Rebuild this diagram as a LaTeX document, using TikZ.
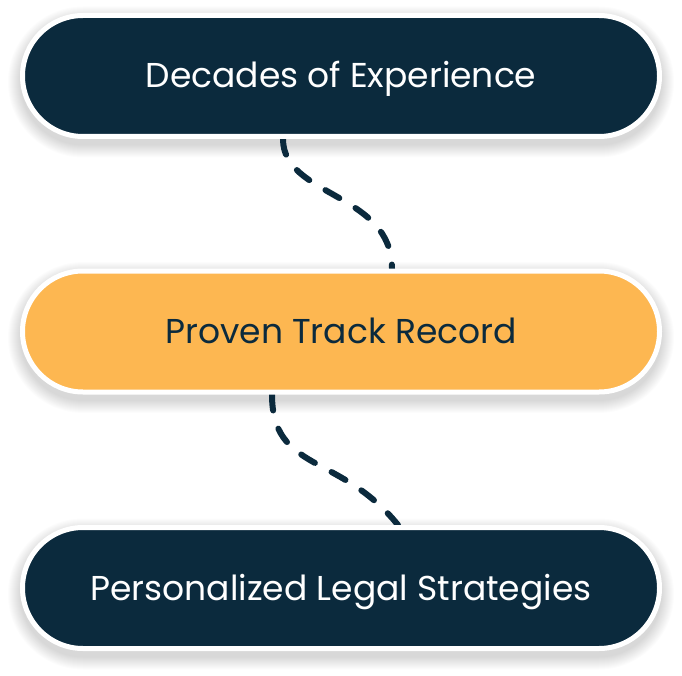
\documentclass[tikz,border=0pt]{standalone}
\usepackage{fontspec}
\setmainfont{Poppins}
\usetikzlibrary{calc}
\pgfdeclarelayer{background}
\pgfsetlayers{background,main}
\definecolor{navy}{HTML}{0B2A3D}
\definecolor{gold}{HTML}{FDB751}
\tikzset{
  pill/.style={draw=white, line width=5pt, rounded corners=60.5pt,
    minimum width=637pt, minimum height=121pt, inner sep=0pt,
    text height=24pt, text depth=0pt,
    font=\fontsize{34.5}{40}\selectfont},
  darkpill/.style={pill, fill=navy, text=white},
  goldpill/.style={pill, fill=gold, text=navy},
  link/.style={draw=navy, line width=6pt, line cap=round, dash pattern=on 16pt off 19pt},
}
\begin{document}
\begin{tikzpicture}[x=1pt,y=-1pt]
\useasboundingbox (0,0) rectangle (682,676);
\node[darkpill] (a) at (341,76) {Decades of Experience};
\node[goldpill] (b) at (341,331.5) {Proven Track Record};
\node[darkpill] (c) at (341,588) {Personalized Legal Strategies};
\begin{pgfonlayer}{background}
  \fill[white] (0,0) rectangle (682,676);
  \foreach \n in {a,b,c}{
    \foreach \r in {0,1,...,12}{
      \fill[black, opacity=0.011, rounded corners={63.5pt+\r pt}]
        ($(\n.center)+(-321-\r,-63.5-\r+6)$) rectangle ($(\n.center)+(321+\r,63.5+\r+6)$);
    }
  }
  \draw[link] ($(a.south)+(-58,0)$) .. controls ($(a.south)+(-58,58)$) and ($(b.north)+(51,-76)$) .. ($(b.north)+(51,0)$);
  \draw[link] ($(b.south)+(-69,0)$) .. controls ($(b.south)+(-69,78)$) and ($(c.north)+(-1,-72)$) .. ($(c.north)+(57,0)$);
\end{pgfonlayer}
\end{tikzpicture}
\end{document}
